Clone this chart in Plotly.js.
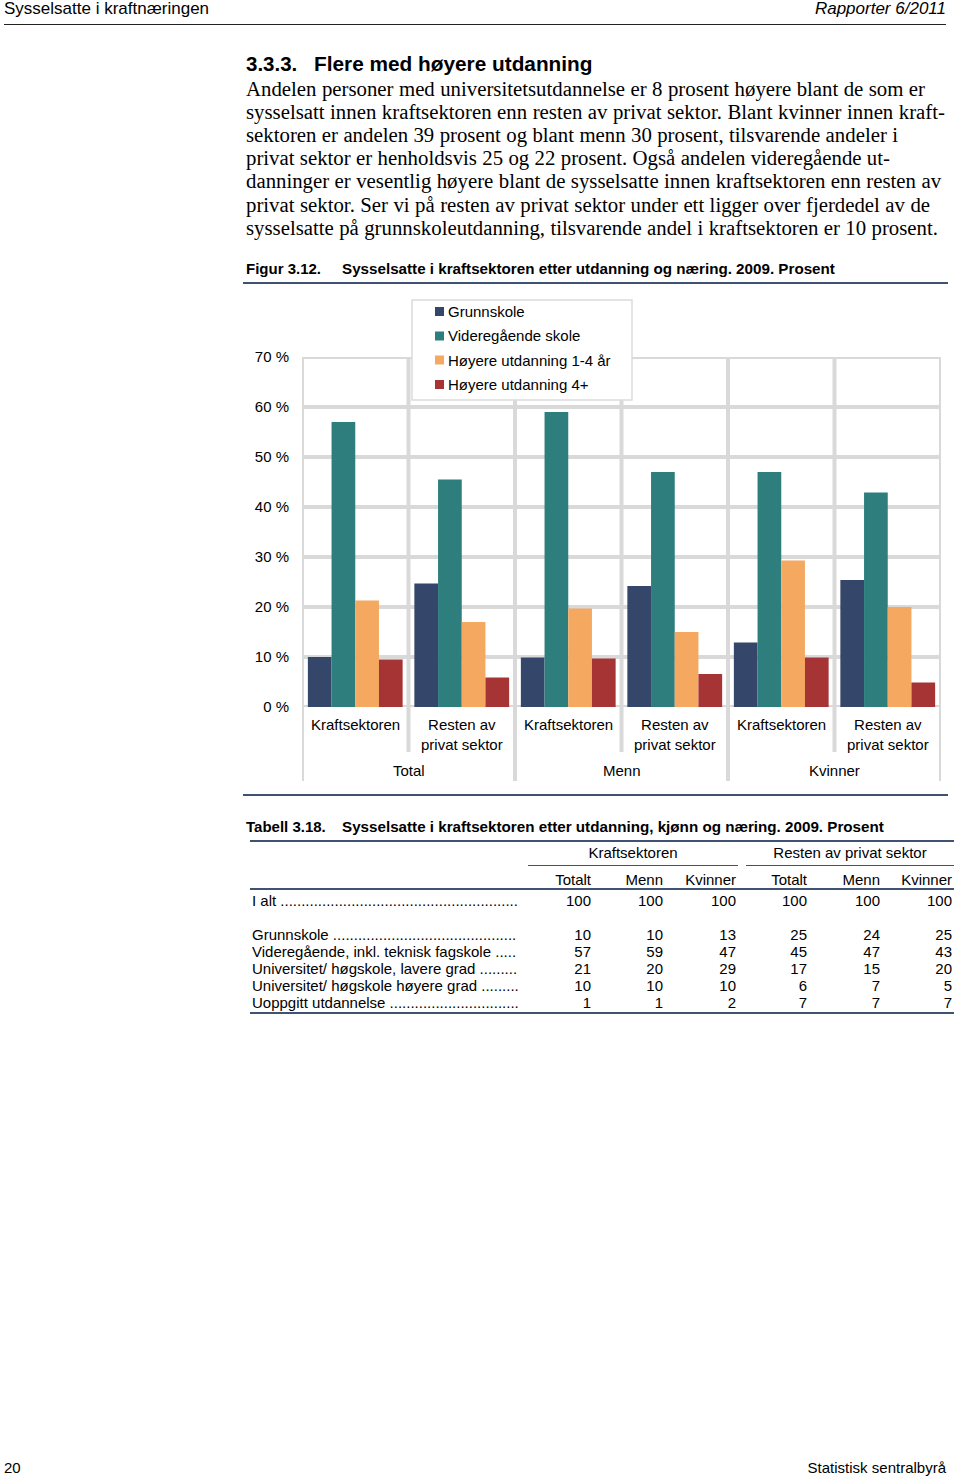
<!DOCTYPE html>
<html>
<head>
<meta charset="utf-8">
<script src="https://cdn.plot.ly/plotly-3.0.1.min.js"></script>
<style>
  html, body { margin:0; padding:0; background:#fff; }
  #page { position:relative; width:960px; height:1478px; background:#fff; overflow:hidden;
          font-family:'Liberation Sans', Arial, sans-serif; color:#000; }
  .abs { position:absolute; white-space:nowrap; }
  .hline { position:absolute; height:0; }
  .body-line { position:absolute; left:246px; font-family:'Liberation Serif','Times New Roman',serif;
               font-size:20.8px; line-height:23px; white-space:nowrap; }
  #chart { position:absolute; left:0; top:280px; width:960px; height:520px; }
  .lbl { position:absolute; white-space:nowrap; font-size:15px; line-height:17px; }
  .num { position:absolute; text-align:right; font-size:15px; line-height:17px; white-space:nowrap; }
</style>
</head>
<body>
<div id="page">
  <div class="abs" style="left:4px;top:0px;font-size:17px;line-height:17px;">Sysselsatte i kraftnæringen</div>
  <div class="abs" style="right:14px;top:0px;font-size:17px;line-height:17px;font-style:italic;">Rapporter 6/2011</div>
  <div class="hline" style="left:4px;width:942px;top:24px;border-top:1.3px solid #222;"></div>

  <div class="abs" style="left:246px;top:52px;font-size:20.5px;line-height:24px;font-weight:bold;">3.3.3.</div>
  <div class="abs" style="left:314px;top:52px;font-size:20.8px;line-height:24px;font-weight:bold;">Flere med høyere utdanning</div>
  <div id="bodytext"></div>

  <div class="abs" style="left:246px;top:260px;font-size:15px;line-height:18px;font-weight:bold;">Figur 3.12.</div>
  <div class="abs" style="left:342px;top:260px;font-size:15.2px;line-height:18px;font-weight:bold;">Sysselsatte i kraftsektoren etter utdanning og næring. 2009. Prosent</div>
  <div class="hline" style="left:243px;width:705px;top:282px;border-top:2px solid #3f5272;"></div>

  <div id="chart"></div>

  <div class="hline" style="left:243px;width:705px;top:794px;border-top:2px solid #3f5272;"></div>

  <div class="abs" style="left:246px;top:818px;font-size:15px;line-height:18px;font-weight:bold;">Tabell 3.18.</div>
  <div class="abs" style="left:342px;top:818px;font-size:15.2px;line-height:18px;font-weight:bold;">Sysselsatte i kraftsektoren etter utdanning, kjønn og næring. 2009. Prosent</div>
  <div id="table"></div>

  <div class="abs" style="left:4px;top:1459px;font-size:15px;line-height:18px;">20</div>
  <div class="abs" style="right:14px;top:1459px;font-size:15px;line-height:18px;">Statistisk sentralbyrå</div>
</div>

<script>
// ---------- DATA ----------
const bodyLines = [
  'Andelen personer med universitetsutdannelse er 8 prosent høyere blant de som er',
  'sysselsatt innen kraftsektoren enn resten av privat sektor. Blant kvinner innen kraft-',
  'sektoren er andelen 39 prosent og blant menn 30 prosent, tilsvarende andeler i',
  'privat sektor er henholdsvis 25 og 22 prosent. Også andelen videregående ut-',
  'danninger er vesentlig høyere blant de sysselsatte innen kraftsektoren enn resten av',
  'privat sektor. Ser vi på resten av privat sektor under ett ligger over fjerdedel av de',
  'sysselsatte på grunnskoleutdanning, tilsvarende andel i kraftsektoren er 10 prosent.'
];

const groups = ['Total', 'Menn', 'Kvinner'];
const sectors = ['Kraftsektoren', 'Resten av<br>privat sektor'];
const seriesNames = ['Grunnskole', 'Videregående skole', 'Høyere utdanning 1-4 år', 'Høyere utdanning 4+'];
const seriesColors = ['#34466a', '#2e7e7e', '#f5a85f', '#a63434'];
const grunnskole   = [10.0, 24.7,  9.9, 24.2, 12.9, 25.4];
const videregaende = [57.0, 45.5, 59.0, 47.0, 47.0, 42.9];
const hoyere14     = [21.3, 17.0, 19.7, 15.0, 29.3, 20.0];
const hoyere4      = [ 9.5,  5.9,  9.7,  6.6,  9.9,  4.9];
const yTickVals = [0, 10, 20, 30, 40, 50, 60, 70];

const tableGroupHeaders = ['Kraftsektoren', 'Resten av privat sektor'];
const tableColHeaders = ['Totalt', 'Menn', 'Kvinner', 'Totalt', 'Menn', 'Kvinner'];
const totalLabel = 'I alt';
const totalRow = [100, 100, 100, 100, 100, 100];
const tableRowLabels = ['Grunnskole', 'Videregående, inkl. teknisk fagskole', 'Universitet/ høgskole, lavere grad',
                        'Universitet/ høgskole høyere grad', 'Uoppgitt utdannelse'];
const rowGrunnskole = [10, 10, 13, 25, 24, 25];
const rowVideregaende = [57, 59, 47, 45, 47, 43];
const rowLavere = [21, 20, 29, 17, 15, 20];
const rowHoyere = [10, 10, 10, 6, 7, 5];
const rowUoppgitt = [1, 1, 2, 7, 7, 7];

// ---------- helpers ----------
const cv = document.createElement('canvas').getContext('2d');
function measure(text, font) { cv.font = font; return cv.measureText(text).width; }

// ---------- BODY TEXT ----------
const bodyWidths = [679, 699, 652, 644, 695, 684, 692];
const bodyFont = "20.8px 'Liberation Serif'";
const bt = document.getElementById('bodytext');
bodyLines.forEach((t, i) => {
  const d = document.createElement('div');
  d.className = 'body-line';
  d.style.top = (76.5 + i * 23.2) + 'px';
  const nat = measure(t, bodyFont);
  const spaces = (t.match(/ /g) || []).length;
  const ws = (bodyWidths[i] - nat) / Math.max(spaces, 1);
  d.style.wordSpacing = ws.toFixed(2) + 'px';
  d.textContent = t;
  bt.appendChild(d);
});

// ---------- CHART ----------
const L = 302, R = 941, T = 357, B = 707, divTop = 280, divH = 520;
const W = R - L, H = B - T;
const px2x = X => (X - L) / W;
const px2y = Y => (B - Y) / H;

const xIdx = [];
for (let g = 0; g < groups.length; g++) for (let s = 0; s < sectors.length; s++) xIdx.push(g * sectors.length + s);
const seriesData = [grunnskole, videregaende, hoyere14, hoyere4];

const traces = seriesData.map((vals, k) => ({
  type: 'bar', x: xIdx, y: vals, name: seriesNames[k],
  marker: { color: seriesColors[k], line: { width: 0 } },
  showlegend: false, hoverinfo: 'skip'
}));

const gridColor = '#d9d9d9';
const shapes = [];
yTickVals.forEach(v => shapes.push({ type: 'line', xref: 'paper', yref: 'y', x0: 0, x1: 1, y0: v, y1: v,
  line: { color: gridColor, width: 4 }, layer: 'below' }));
for (let i = 0; i <= xIdx.length; i++) {
  const major = (i % sectors.length === 0);
  shapes.push({ type: 'line', xref: 'x', yref: 'paper', x0: i - 0.5, x1: i - 0.5,
    y0: major ? px2y(781) : px2y(752), y1: 1, line: { color: gridColor, width: 4 }, layer: 'below' });
}
// legend box
shapes.push({ type: 'rect', xref: 'paper', yref: 'paper', x0: px2x(412), x1: px2x(632), y0: px2y(400), y1: px2y(300),
  fillcolor: '#ffffff', line: { color: '#dcdcdc', width: 1.5 }, layer: 'above' });

const annotations = [];
const legendY = [311.5, 336, 360, 384.5];
seriesNames.forEach((n, k) => {
  shapes.push({ type: 'rect', xref: 'paper', yref: 'paper', x0: px2x(435), x1: px2x(444),
    y0: px2y(legendY[k] + 4.5), y1: px2y(legendY[k] - 4.5), fillcolor: seriesColors[k], line: { width: 0 }, layer: 'above' });
  annotations.push({ xref: 'paper', yref: 'paper', x: px2x(446), y: px2y(legendY[k]), xanchor: 'left', yanchor: 'middle',
    text: n, showarrow: false, font: { size: 15, color: '#000' } });
});

xIdx.forEach((xi, i) => {
  annotations.push({ xref: 'x', yref: 'paper', x: xi, y: px2y(714), xanchor: 'center', yanchor: 'top',
    text: sectors[i % sectors.length], showarrow: false, font: { size: 15, color: '#000' } });
});
groups.forEach((g, gi) => {
  annotations.push({ xref: 'x', yref: 'paper', x: gi * sectors.length + (sectors.length - 1) / 2, y: px2y(770),
    xanchor: 'center', yanchor: 'middle', text: g, showarrow: false, font: { size: 15, color: '#000' } });
});

const layout = {
  width: 960, height: divH,
  margin: { l: L, r: 960 - R, t: T - divTop, b: divH - (B - divTop), pad: 0 },
  paper_bgcolor: 'rgba(0,0,0,0)', plot_bgcolor: 'rgba(0,0,0,0)',
  font: { family: "'Liberation Sans', Arial, sans-serif", size: 15, color: '#000' },
  barmode: 'group', bargap: 0.11, bargroupgap: 0,
  showlegend: false,
  xaxis: { range: [-0.5, xIdx.length - 0.5], showticklabels: false, showgrid: false, zeroline: false, showline: false, ticks: '', fixedrange: true },
  yaxis: { range: [0, 70], tickvals: yTickVals, ticktext: yTickVals.map(v => v + ' %'), showgrid: false, zeroline: false,
           showline: false, ticks: '', ticklabelstandoff: 12, tickfont: { size: 15, color: '#000' }, fixedrange: true },
  shapes: shapes, annotations: annotations
};
Plotly.newPlot('chart', traces, layout, { displayModeBar: false, staticPlot: true });

// ---------- TABLE ----------
const tbl = document.getElementById('table');
const colRight = [591, 663, 736, 807, 880, 952];
const tblFont = "15px 'Liberation Sans'";
function addLine(x, w, y, th) {
  const d = document.createElement('div'); d.className = 'hline';
  d.style.left = x + 'px'; d.style.width = w + 'px'; d.style.top = y + 'px';
  d.style.borderTop = th + 'px solid #3f5272'; tbl.appendChild(d);
}
function addText(txt, left, centerY, cls, width, align) {
  const d = document.createElement('div'); d.className = cls;
  d.textContent = txt; d.style.top = (centerY - 8.5) + 'px';
  if (align === 'right') { d.style.left = (left - 45) + 'px'; d.style.width = '45px'; }
  else if (align === 'right-wide') { d.style.left = (left - 62) + 'px'; d.style.width = '62px'; d.style.textAlign = 'right'; }
  else if (align === 'center') { d.style.left = (left - width / 2) + 'px'; d.style.width = width + 'px'; d.style.textAlign = 'center'; }
  else { d.style.left = left + 'px'; }
  tbl.appendChild(d);
}
function withLeader(label, maxW) {
  let s = label + ' ';
  while (measure(s + '.', tblFont) <= maxW) s += '.';
  return s;
}
addLine(250, 704, 840, 2);
addText(tableGroupHeaders[0], 633, 852, 'lbl', 200, 'center');
addText(tableGroupHeaders[1], 850, 852, 'lbl', 200, 'center');
addLine(528, 210, 865, 1.3);
addLine(746, 208, 865, 1.3);
tableColHeaders.forEach((h, i) => addText(h, colRight[i], 879, 'num', 0, h.length > 5 ? 'right-wide' : 'right'));
addLine(250, 704, 888, 2);
addText(withLeader(totalLabel, 268), 252, 900, 'lbl');
totalRow.forEach((v, i) => addText(String(v), colRight[i], 900, 'num', 0, 'right'));
const rows = [rowGrunnskole, rowVideregaende, rowLavere, rowHoyere, rowUoppgitt];
tableRowLabels.forEach((lab, r) => {
  const cy = 934 + r * 17;
  addText(withLeader(lab, 268), 252, cy, 'lbl');
  rows[r].forEach((v, i) => addText(String(v), colRight[i], cy, 'num', 0, 'right'));
});
addLine(250, 704, 1012, 2);
</script>
</body>
</html>
